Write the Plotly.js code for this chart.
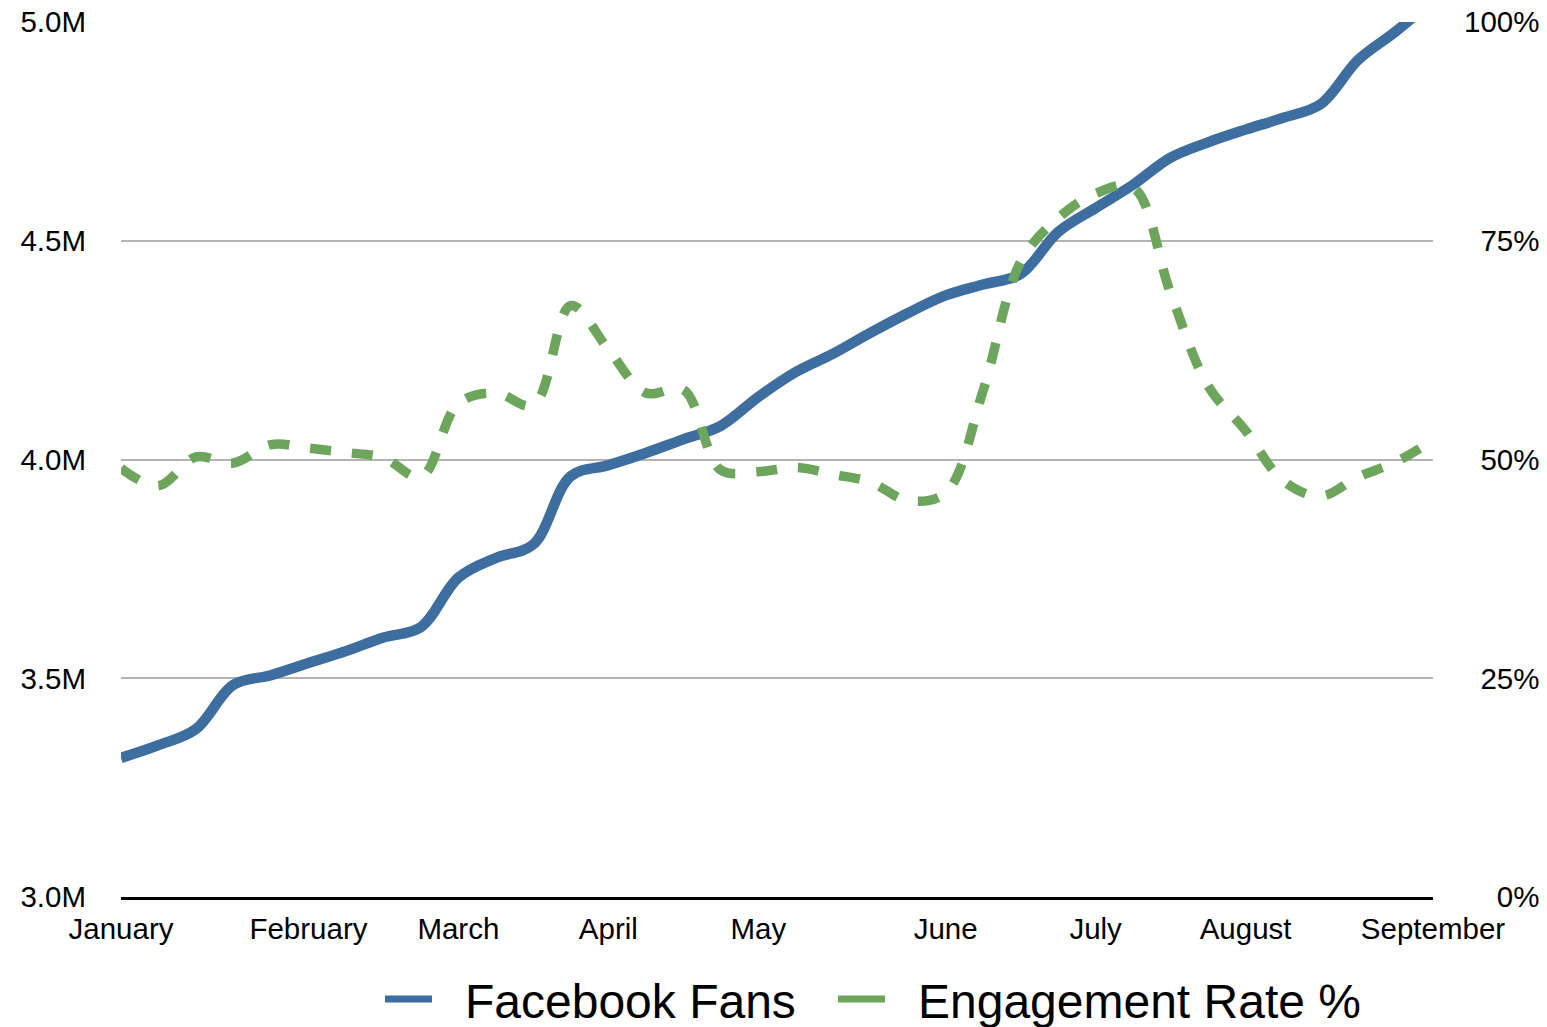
<!DOCTYPE html>
<html>
<head>
<meta charset="utf-8">
<script src="https://cdn.plot.ly/plotly-3.0.1.min.js"></script>
<style>html,body{margin:0;padding:0;background:#fff;}#chart{width:1547px;height:1027px;}</style>
</head>
<body>
<div id="chart"></div>
<script>
// Weekly points, January (week 0) to September (week 35)
var weeks = [];
for (var i = 0; i <= 35; i++) weeks.push(i);

var monthTickWeeks = [0, 5, 9, 13, 17, 22, 26, 30, 35];
var monthLabels = ["January", "February", "March", "April", "May", "June", "July", "August", "September"];

// Facebook Fans (millions)
var fans = [3.318, 3.347, 3.384, 3.485, 3.507, 3.535, 3.562, 3.593, 3.617, 3.73, 3.775, 3.806,
            3.962, 3.987, 4.015, 4.046, 4.077, 4.143, 4.2, 4.242, 4.29, 4.335, 4.375, 4.4,
            4.424, 4.52, 4.575, 4.628, 4.69, 4.725, 4.754, 4.781, 4.812, 4.913, 4.978, 5.05];

// Engagement Rate (%)
var engagement = [49.0, 47.0, 50.3, 49.6, 51.7, 51.3, 50.8, 50.2, 48.0, 56.4, 57.6, 56.2,
                  67.6, 62.6, 57.6, 58.0, 48.8, 48.6, 49.1, 48.3, 47.4, 45.3, 46.2, 57.9,
                  72.6, 77.6, 80.4, 81.1, 69.0, 58.4, 53.3, 47.6, 45.8, 48.0, 49.7, 52.2];

var leftTicks = [3.0, 3.5, 4.0, 4.5, 5.0];
var leftTickText = ["3.0M", "3.5M", "4.0M", "4.5M", "5.0M"];
var rightTicks = [0, 25, 50, 75, 100];
var rightTickText = ["\u2007\u20070%", "\u200725%", "\u200750%", "\u200775%", "100%"];

var blue = "#3e6d9f";
var green = "#6ca55b";
var font = "'Liberation Sans', Arial, Helvetica, sans-serif";

var traces = [
  {x: weeks, y: fans, type: "scatter", mode: "lines", name: "Facebook Fans", showlegend: false,
   line: {color: blue, width: 10.5, shape: "spline", smoothing: 1}, yaxis: "y", hoverinfo: "none"},
  {x: weeks, y: engagement, type: "scatter", mode: "lines", name: "Engagement Rate %", showlegend: false,
   line: {color: green, width: 9.5, dash: "21px,21px", shape: "spline", smoothing: 1}, yaxis: "y2", hoverinfo: "none"},
  {x: [null], y: [null], type: "scatter", mode: "lines", name: "\u2002\u200AFacebook Fans",
   line: {color: blue, width: 7}, yaxis: "y", legendwidth: 391},
  {x: [null], y: [null], type: "scatter", mode: "lines", name: "\u2002\u200AEngagement Rate %",
   line: {color: green, width: 7}, yaxis: "y2", legendwidth: 480}
];

var layout = {
  width: 1547, height: 1027,
  margin: {l: 121, r: 114, t: 22, b: 130, pad: 0, autoexpand: false},
  paper_bgcolor: "#fff", plot_bgcolor: "#fff",
  font: {family: font, size: 29, color: "#000"},
  showlegend: true,
  xaxis: {
    range: [0, 35], tickvals: monthTickWeeks, ticktext: monthLabels,
    showgrid: false, zeroline: false, showline: true, linecolor: "#000", linewidth: 3,
    ticks: "", ticklabelstandoff: 4, tickfont: {size: 29.5, color: "#000"}, fixedrange: true, automargin: false
  },
  yaxis: {
    range: [3.0, 5.0], tickvals: leftTicks, ticktext: leftTickText,
    showgrid: true, gridcolor: "#b3b3b3", gridwidth: 2, zeroline: false, showline: false,
    ticks: "", ticklabelstandoff: 34, tickfont: {size: 29.5, color: "#000"}, fixedrange: true, automargin: false
  },
  yaxis2: {
    range: [0, 100], tickvals: rightTicks, ticktext: rightTickText, overlaying: "y", side: "right",
    showgrid: false, zeroline: false, showline: false,
    ticks: "", ticklabelstandoff: 30, tickfont: {size: 29.5, color: "#000"}, fixedrange: true, automargin: false
  },
  legend: {
    orientation: "h", x: 0.1974, xanchor: "left", yref: "container", y: 0.027, yanchor: "middle",
    font: {size: 48, color: "#000"}, itemwidth: 47,
    bgcolor: "rgba(0,0,0,0)"
  }
};

Plotly.newPlot("chart", traces, layout, {displayModeBar: false, staticPlot: true});
</script>
</body>
</html>
